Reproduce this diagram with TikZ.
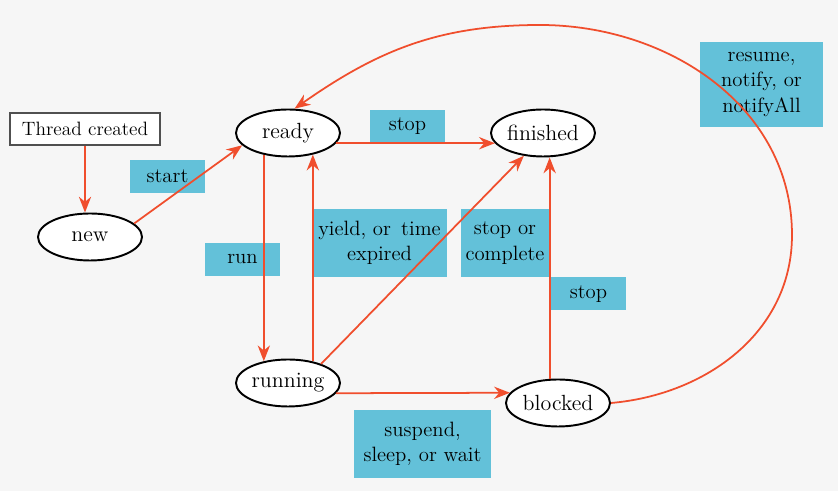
\documentclass[tikz,border=0pt]{standalone}
\usetikzlibrary{arrows.meta,shapes.geometric}
\definecolor{bggray}{RGB}{246,246,246}
\definecolor{labelblue}{RGB}{99,193,217}
\definecolor{arrowred}{RGB}{240,78,45}
\definecolor{boxgray}{RGB}{80,80,80}
\begin{document}
\begin{tikzpicture}[font=\fontsize{11.8}{14.5}\selectfont]
    \tikzstyle{state}=[ellipse, draw, line width=1.1pt, fill=white, minimum width=2.08cm, minimum height=0.94cm, inner sep=0pt, font=\fontsize{12.5}{14.5}\selectfont];
    \tikzstyle{event}=[fill=labelblue, align=center, inner sep=0pt, minimum width=1.5cm, minimum height=0.66cm];
    \tikzstyle{trans}=[arrowred, line width=1pt, -{Stealth[length=9pt,width=7pt]}];

    \fill[bggray] (0,0) rectangle (16.76,9.82);
    \useasboundingbox (0,0) rectangle (16.76,9.82);

    % event labels
    \node[event] (lstart) at (3.35,6.29) {start};
    \node[event] (lstop1) at (8.15,7.29) {stop};
    \node[event] (lrun) at (4.85,4.63) {run};
    \node[event, minimum width=2.7cm, minimum height=1.36cm] (lyield) at (7.59,4.96) {yield, or\, time\\expired};
    \node[event, minimum width=1.76cm, minimum height=1.36cm] (lcomplete) at (10.10,4.96) {stop or\\complete};
    \node[event] (lstop2) at (11.77,3.94) {stop};
    \node[event, minimum width=2.46cm, minimum height=1.7cm] (lresume) at (15.23,8.13) {resume,\\notify, or\\notifyAll};
    \node[event, minimum width=2.74cm, minimum height=1.36cm] (lsuspend) at (8.45,0.94) {suspend,\\sleep, or wait};

    % states
    \node[draw=boxgray, line width=1pt, fill=white, minimum width=3cm, minimum height=0.64cm, inner sep=0pt, font=\fontsize{11}{13}\selectfont] (created) at (1.7,7.24) {Thread created};
    \node[state] (new) at (1.8,5.08) {new};
    \node[state] (ready) at (5.76,7.16) {ready};
    \node[state] (finished) at (10.86,7.16) {finished};
    \node[state] (running) at (5.76,2.16) {running};
    \node[state] (blocked) at (11.16,1.76) {blocked};

    \coordinate (c1) at (15.84,5.12);
    \coordinate (c2) at (10.8,9.32);

    \draw[trans] (created) -- (created |- new.north);
    \draw[trans] (new.17) -- (ready.195);
    \draw[trans] (ready.-12) -- (finished.192);
    \draw[trans] (ready.222) -- (running.138);
    \draw[trans] (running.41) -- (ready.-41);
    \draw[trans] (running.30) -- (finished.230);
    \draw[trans] (running.-12) -- (blocked.168);
    \draw[trans] (blocked.109) -- (blocked.109 |- finished.south);
    \draw[trans] (blocked.east) to[out=5,in=-90] (c1) to[out=90,in=0] (c2) to[out=180,in=35] (ready.75);

\end{tikzpicture}
\end{document}
